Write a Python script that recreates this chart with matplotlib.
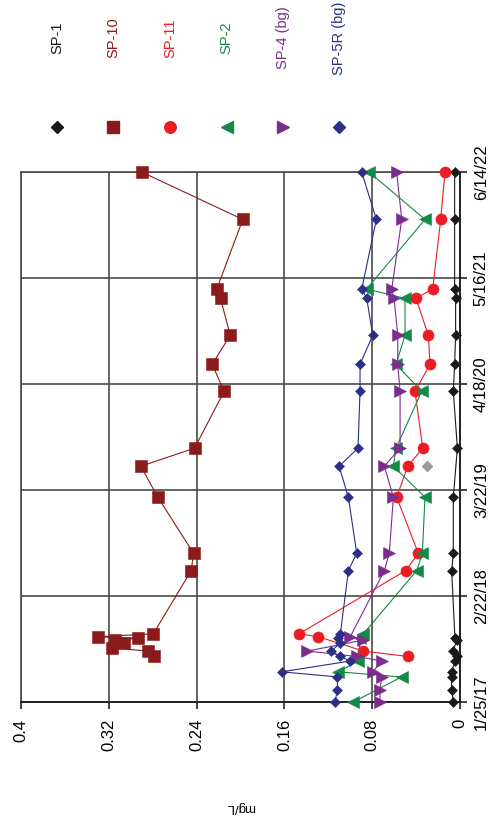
import matplotlib
matplotlib.use('Agg')
import matplotlib.pyplot as plt
import matplotlib.dates as mdates
from matplotlib.lines import Line2D
import numpy as np
import pandas as pd

plt.rcParams['font.family'] = ['Liberation Sans', 'DejaVu Sans']

# ---------------- data ----------------
upper_dates = ['2018-05-28', '2018-07-31', '2019-02-24', '2019-06-19', '2019-08-25',
               '2020-03-23', '2020-07-01', '2020-10-17', '2021-03-03', '2021-04-07',
               '2021-12-21', '2022-06-14']

sp1_dates = ['2017-01-25', '2017-03-12', '2017-04-28', '2017-05-17', '2017-06-26',
             '2017-07-13', '2017-08-02', '2017-09-12', '2017-09-18',
             '2018-05-28', '2018-07-31', '2019-02-24', '2019-08-25', '2020-03-23',
             '2020-07-01', '2020-10-17', '2021-03-03', '2021-04-07', '2021-12-21',
             '2022-06-14']
sp1_vals = [0.0061, 0.0076, 0.0076, 0.0076, 0.0046, 0.0030, 0.0061, 0.0030, 0.0046,
            0.0076, 0.0061, 0.0061, 0.0024, 0.0061, 0.0049, 0.0040, 0.0040, 0.0049,
            0.0049, 0.0049]

sp1_extra_dates = ['2019-06-19']
sp1_extra_vals = [0.0298]

sp10_dates = ['2017-07-13', '2017-08-02', '2017-08-14', '2017-08-31', '2017-09-12',
              '2017-09-18', '2017-09-24', '2017-10-05'] + upper_dates
sp10_vals = [0.2786, 0.2844, 0.3175, 0.3066, 0.3148, 0.2935, 0.3299, 0.2795,
             0.2449, 0.2428, 0.2753, 0.2908, 0.2419, 0.2149, 0.2258, 0.2094,
             0.2182, 0.2216, 0.1979, 0.2896]

sp11_dates = ['2017-07-13', '2017-08-02', '2017-09-24', '2017-10-05'] + upper_dates
sp11_vals = [0.0474, 0.0880, 0.1290, 0.1466,
             0.0494, 0.0380, 0.0577, 0.0476, 0.0340, 0.0410, 0.0273, 0.0288,
             0.0401, 0.0249, 0.0176, 0.0137]

sp2_dates = ['2017-01-25', '2017-04-28', '2017-05-17', '2017-06-26', '2017-09-18',
             '2017-10-05'] + upper_dates
sp2_vals = [0.0972, 0.0531, 0.1108, 0.0926, 0.0910, 0.0880,
            0.0394, 0.0343, 0.0319, 0.0607, 0.0583, 0.0349, 0.0583, 0.0501,
            0.0501, 0.0850, 0.0319, 0.0826]

sp4_dates = ['2017-01-25', '2017-03-12', '2017-04-28', '2017-05-17', '2017-06-26',
             '2017-07-13', '2017-08-02', '2017-09-12', '2017-09-24'] + upper_dates
sp4_vals = [0.0728, 0.0728, 0.0713, 0.0796, 0.0713, 0.0941, 0.1390, 0.0880, 0.1000,
            0.0689, 0.0644, 0.0607, 0.0689, 0.0546, 0.0546, 0.0567, 0.0567,
            0.0601, 0.0622, 0.0531, 0.0577]

sp5r_dates = ['2017-01-25', '2017-03-12', '2017-04-28', '2017-05-17', '2017-06-26',
              '2017-07-13', '2017-08-02', '2017-08-31', '2017-09-18',
              '2017-10-05'] + upper_dates
sp5r_vals = [0.1138, 0.1117, 0.1117, 0.1624, 0.1002, 0.1093, 0.1175, 0.1093, 0.1108,
             0.1090,
             0.1017, 0.0941, 0.1017, 0.1102, 0.0929, 0.0911, 0.0911, 0.0795,
             0.0850, 0.0895, 0.0762, 0.0895]

series_names = ['SP-1', 'SP-10', 'SP-11', 'SP-2', 'SP-4 (bg)', 'SP-5R (bg)']
series_colors = ['#1a1a1a', '#8b1a1a', '#ed1c24', '#138a45', '#7b2d8e', '#2b2f86']

value_ticks = [0.4, 0.32, 0.24, 0.16, 0.08, 0]
value_tick_labels = ['0.4', '0.32', '0.24', '0.16', '0.08', '0']
date_axis_min = '2017-01-25'
date_axis_max = '2022-06-14'
date_tick_labels = ['1/25/17', '2/22/18', '3/22/19', '4/18/20', '5/16/21', '6/14/22']
value_label = 'mg/L'

# ---------------- figure ----------------
W, H = 489, 823
fig = plt.figure(figsize=(W / 100, H / 100), dpi=100)
ax = fig.add_axes([21 / W, (H - 702) / H, 439 / W, 530 / H])


def dn(lst):
    return mdates.date2num(pd.to_datetime(lst))


markers = ['D', 's', 'o', '<', '>', 'D']
msizes = [5.4, 8, 8, 8, 8, 5.4]
all_series = [(sp1_dates, sp1_vals), (sp10_dates, sp10_vals), (sp11_dates, sp11_vals),
              (sp2_dates, sp2_vals), (sp4_dates, sp4_vals), (sp5r_dates, sp5r_vals)]

for i, (d, v) in enumerate(all_series):
    order = np.argsort(dn(d))
    dd = dn(d)[order]
    vv = np.array(v)[order]
    ax.plot(vv, dd, color=series_colors[i], lw=0.8, marker=markers[i],
            ms=msizes[i], mec=series_colors[i], mew=0.4, clip_on=False,
            zorder=3 + i)

ax.plot(sp1_extra_vals, dn(sp1_extra_dates), linestyle='none', marker='D', ms=5.4,
        color='#9a9a9a', clip_on=False, zorder=3)

ymin = dn([date_axis_min])[0]
ymax = dn([date_axis_max])[0] + 1
ax.set_ylim(ymin, ymax)
ax.set_xlim(0.4, 0)

ax.set_xticks(value_ticks)
ax.set_xticklabels(value_tick_labels, rotation=90)
ax.set_yticks(np.linspace(ymin, ymax, len(date_tick_labels)))
ax.set_yticklabels(date_tick_labels, rotation=90, va='center')
ax.yaxis.tick_right()
ax.tick_params(axis='x', direction='out', length=5, width=1.2, pad=7,
               labelsize=12, color='#222222')
ax.tick_params(axis='y', direction='out', length=5, width=1.2, pad=5,
               labelsize=12, color='#222222')

ax.grid(True, color='#4a4a4a', lw=1.2, zorder=1)
ax.set_axisbelow(True)
for side in ['left', 'top']:
    ax.spines[side].set_color('#4a4a4a')
    ax.spines[side].set_linewidth(1.2)
for side in ['bottom', 'right']:
    ax.spines[side].set_color('#222222')
    ax.spines[side].set_linewidth(1.4)

fig.text(240.5 / W, 1 - 807 / H, value_label, rotation=180, ha='center',
         va='center', fontsize=9.5)

# legend (rotated layout)
leg_x = [57.3, 113.3, 170.0, 226.7, 283.3, 339.3]
for i, name in enumerate(series_names):
    fx = leg_x[i] / W
    fig.add_artist(Line2D([fx], [1 - 127 / H], transform=fig.transFigure,
                          marker=markers[i], ms=msizes[i] + 0.3, color=series_colors[i],
                          linestyle='none'))
    fig.text(fx, 1 - 38 / H, name, rotation=90, ha='center', va='center',
             fontsize=10.5, color=series_colors[i])

fig.savefig('out.png', dpi=100)
